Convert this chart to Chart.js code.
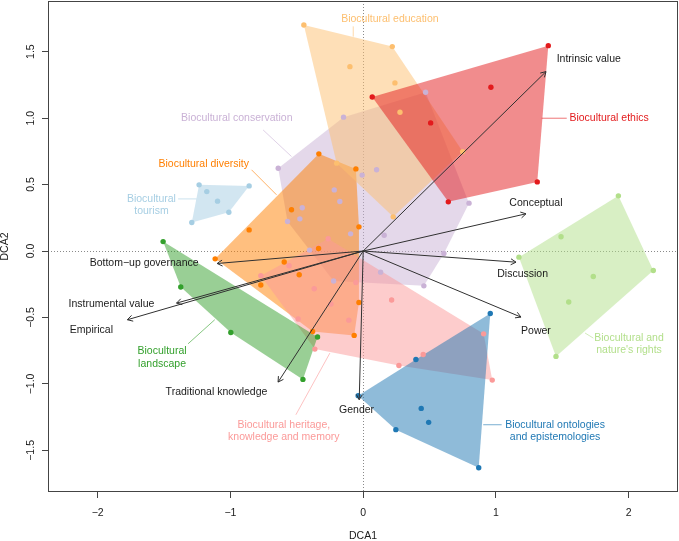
<!DOCTYPE html>
<html><head><meta charset="utf-8">
<script src="https://cdn.jsdelivr.net/npm/chart.js@4/dist/chart.umd.min.js"></script>
<style>html,body{margin:0;padding:0;background:#fff}canvas{display:block}</style>
</head><body>
<canvas id="c" width="679" height="541" style="width:679px;height:541px"></canvas>
<script>
// ---- data ----
const groupNames = ['Biocultural conservation','Biocultural diversity','Biocultural education','Biocultural ethics',
  'Biocultural heritage, knowledge and memory','Biocultural landscape',"Biocultural and nature's rights",
  'Biocultural ontologies and epistemologies','Biocultural tourism'];
const groupColors = ['#CAB2D6','#FF7F00','#FDBF6F','#E31A1C','#FB9A99','#33A02C','#B2DF8A','#1F78B4','#A6CEE3'];

const conservationX = [0.470,-0.148,-0.640,-0.008,0.101,-0.218,-0.176,-0.459,-0.477,-0.570,-0.095,0.158,-0.404,0.608,0.131,-0.223,0.457,0.797];
const conservationY = [1.195,1.007,0.623,0.571,0.611,0.460,0.372,0.325,0.242,0.222,0.129,0.119,0.007,-0.019,-0.159,-0.226,-0.262,0.360];
const diversityX = [-0.334,-0.055,-0.540,-0.859,-0.032,-0.336,-0.595,-0.482,-0.771,-0.032,-0.381,-0.068,-1.115];
const diversityY = [0.731,0.618,0.310,0.159,0.182,0.019,-0.083,-0.179,-0.256,-0.387,-0.605,-0.635,-0.059];
const educationX = [-0.447,0.219,-0.100,0.239,0.277,-0.200,0.226,0.749];
const educationY = [1.700,1.538,1.387,1.265,1.044,0.661,0.257,0.748];
const ethicsX = [0.068,0.508,1.394,0.962,1.311,0.641];
const ethicsY = [1.159,0.964,1.545,1.232,0.520,0.370];
const heritageX = [-0.264,-0.558,-0.771,-0.055,-0.369,0.214,-0.243,-0.490,-0.108,-0.364,0.269,0.452,0.907,0.972];
const heritageY = [0.092,-0.111,-0.186,-0.237,-0.284,-0.369,-0.399,-0.512,-0.520,-0.738,-0.861,-0.778,-0.623,-0.971];
const landscapeX = [-1.507,-1.374,-0.997,-0.344,-0.454];
const landscapeY = [0.071,-0.271,-0.613,-0.647,-0.966];
const natureX = [1.922,1.490,1.173,2.185,1.733,1.548,1.452];
const natureY = [0.415,0.107,-0.046,-0.147,-0.192,-0.384,-0.793];
const ontologiesX = [0.957,0.397,-0.038,0.437,0.493,0.246,0.870];
const ontologiesY = [-0.470,-0.816,-1.089,-1.184,-1.289,-1.344,-1.630];
const tourismX = [-1.236,-1.178,-1.097,-1.012,-1.291,-0.859];
const tourismY = [0.498,0.447,0.375,0.292,0.214,0.490];

const groupX = [conservationX,diversityX,educationX,ethicsX,heritageX,landscapeX,natureX,ontologiesX,tourismX];
const groupY = [conservationY,diversityY,educationY,ethicsY,heritageY,landscapeY,natureY,ontologiesY,tourismY];

// fitted vectors
const vectorNames = ['Intrinsic value','Conceptual','Discussion','Power','Gender','Traditional knowledge','Empirical','Instrumental value','Bottom\u2212up governance'];
const vectorX = [1.377,1.226,1.151,1.188,-0.030,-0.641,-1.776,-1.406,-1.100];
const vectorY = [1.350,0.280,-0.084,-0.497,-1.119,-0.986,-0.517,-0.392,-0.094];

// tick values
const xTicks = [-2,-1,0,1,2];
const yTicks = [-1.5,-1.0,-0.5,0.0,0.5,1.0,1.5];

// ---- annotation placement (data coordinates) ----
const vectorLabelX = [1.699,1.301,1.201,1.301,-0.050,-1.105,-2.047,-1.896,-1.650];
const vectorLabelY = [1.445,0.357,-0.171,-0.600,-1.199,-1.061,-0.592,-0.399,-0.094];
const groupLabelLines = [['Biocultural conservation'],['Biocultural diversity'],['Biocultural education'],['Biocultural ethics'],
  ['Biocultural heritage,','knowledge and memory'],['Biocultural','landscape'],['Biocultural and',"nature's rights"],
  ['Biocultural ontologies','and epistemologies'],['Biocultural','tourism']];
const groupLabelX = [-0.952,-1.201,0.201,1.852,-0.598,-1.515,2.002,1.445,-1.595];
const groupLabelY = [0.999,0.656,1.746,0.999,-1.307,-0.756,-0.655,-1.307,0.392];
const leaderX1 = [-0.754,-0.841,-0.075,1.344,-0.507,-1.319,1.671,0.904,-1.394];
const leaderY1 = [0.911,0.611,1.690,0.999,-1.232,-0.698,-0.617,-1.307,0.392];
const leaderX2 = [-0.540,-0.653,-0.075,1.533,-0.251,-1.118,1.733,1.043,-1.255];
const leaderY2 = [0.711,0.423,1.613,0.999,-0.768,-0.517,-0.655,-1.307,0.392];

// ---- helpers ----
function hexA(hex,a){const n=parseInt(hex.slice(1),16);return `rgba(${n>>16},${(n>>8)&255},${n&255},${a})`;}
function hull(xs,ys){
  const p=xs.map((x,i)=>({x,y:ys[i]})).sort((a,b)=>a.x-b.x||a.y-b.y);
  const cr=(o,a,b)=>(a.x-o.x)*(b.y-o.y)-(a.y-o.y)*(b.x-o.x);
  const lo=[],up=[];
  for(const q of p){while(lo.length>=2&&cr(lo[lo.length-2],lo[lo.length-1],q)<=0)lo.pop();lo.push(q);}
  for(let i=p.length-1;i>=0;i--){const q=p[i];while(up.length>=2&&cr(up[up.length-2],up[up.length-1],q)<=0)up.pop();up.push(q);}
  up.pop();lo.pop();const h=lo.concat(up);h.push(h[0]);return h;
}
const FONT='"Liberation Sans", Arial, sans-serif';
const minus=v=>(v<0?'\u2212':'')+Math.abs(v);
const noPad=s=>{s.paddingTop=0;s.paddingBottom=0;s.paddingLeft=0;s.paddingRight=0;};

const datasets=[];
const nG=groupNames.length;
groupNames.forEach((g,i)=>{
  datasets.push({type:'line',label:g+' hull',data:hull(groupX[i],groupY[i]),fill:'shape',
    backgroundColor:hexA(groupColors[i],0.5),borderWidth:0,borderColor:'rgba(0,0,0,0)',pointRadius:0,tension:0,order:100+(nG-i)});
});
groupNames.forEach((g,i)=>{
  datasets.push({type:'scatter',label:g,data:groupX[i].map((x,k)=>({x,y:groupY[i][k]})),
    pointRadius:2.7,pointHoverRadius:2.7,backgroundColor:groupColors[i],borderWidth:0,order:50+(nG-i)});
});

const overlay={
  id:'overlay',
  beforeDatasetsDraw(chart){
    const {ctx,chartArea:a,scales:{x,y}}=chart;
    ctx.save();
    ctx.strokeStyle='#8a8a8a';ctx.lineWidth=1;ctx.setLineDash([1,2]);
    const x0=Math.round(x.getPixelForValue(0))+0.5,y0=Math.round(y.getPixelForValue(0))+0.5;
    ctx.beginPath();ctx.moveTo(x0,a.top);ctx.lineTo(x0,a.bottom);ctx.moveTo(a.left,y0);ctx.lineTo(a.right,y0);ctx.stroke();
    ctx.restore();
  },
  afterDatasetsDraw(chart){
    const {ctx,chartArea:a,scales:{x,y}}=chart;
    ctx.save();
    // leader lines
    ctx.lineWidth=1;
    groupNames.forEach((g,i)=>{
      ctx.strokeStyle=hexA(groupColors[i],0.6);
      ctx.beginPath();ctx.moveTo(x.getPixelForValue(leaderX1[i]),y.getPixelForValue(leaderY1[i]));
      ctx.lineTo(x.getPixelForValue(leaderX2[i]),y.getPixelForValue(leaderY2[i]));ctx.stroke();
    });
    // vectors
    const ox=x.getPixelForValue(0),oy=y.getPixelForValue(0);
    ctx.strokeStyle='#303030';ctx.lineWidth=1;
    vectorNames.forEach((n,i)=>{
      const tx=x.getPixelForValue(vectorX[i]),ty=y.getPixelForValue(vectorY[i]);
      ctx.beginPath();ctx.moveTo(ox,oy);ctx.lineTo(tx,ty);
      const ang=Math.atan2(ty-oy,tx-ox),L=6,h=Math.PI/6;
      ctx.moveTo(tx-L*Math.cos(ang-h),ty-L*Math.sin(ang-h));ctx.lineTo(tx,ty);
      ctx.lineTo(tx-L*Math.cos(ang+h),ty-L*Math.sin(ang+h));
      ctx.stroke();
    });
    // labels
    ctx.font='10.5px '+FONT;ctx.textAlign='center';ctx.textBaseline='middle';
    ctx.fillStyle='#1a1a1a';
    vectorNames.forEach((n,i)=>ctx.fillText(n,x.getPixelForValue(vectorLabelX[i]),y.getPixelForValue(vectorLabelY[i])));
    groupNames.forEach((g,i)=>{
      ctx.fillStyle=groupColors[i];
      const px=x.getPixelForValue(groupLabelX[i]),py=y.getPixelForValue(groupLabelY[i]);
      groupLabelLines[i].forEach((t,k)=>ctx.fillText(t,px,py+k*12.3));
    });
    // box
    ctx.strokeStyle='#444';ctx.lineWidth=1;
    ctx.strokeRect(Math.round(a.left)+0.5,Math.round(a.top)+0.5,Math.round(a.right-a.left)-1,Math.round(a.bottom-a.top)-1);
    ctx.restore();
  }
};

new Chart(document.getElementById('c'),{
  type:'scatter',
  data:{datasets},
  options:{
    responsive:false,animation:false,devicePixelRatio:1,
    layout:{autoPadding:false,padding:{top:1,right:1,left:0,bottom:0}},
    plugins:{legend:{display:false},tooltip:{enabled:false}},
    scales:{
      x:{type:'linear',min:-2.374,max:2.371,
        afterFit:s=>{s.height=49;noPad(s);},
        afterBuildTicks:s=>{s.ticks=xTicks.map(v=>({value:v}));},
        ticks:{callback:v=>minus(v),font:{family:FONT,size:10.5},color:'#1a1a1a',padding:9,maxRotation:0,autoSkip:false},
        grid:{drawOnChartArea:false,drawTicks:true,tickLength:6,color:'#444'},
        border:{display:false},
        title:{display:true,text:'DCA1',font:{family:FONT,size:10.5,lineHeight:1},color:'#1a1a1a',padding:{top:0,bottom:0}}
      },
      y:{type:'linear',min:-1.813,max:1.881,
        afterFit:s=>{s.width=48;noPad(s);},
        afterBuildTicks:s=>{s.ticks=yTicks.map(v=>({value:v}));},
        ticks:{callback:v=>(v<0?'\u2212':'')+Math.abs(v).toFixed(1),font:{family:FONT,size:10.5},color:'#1a1a1a',
          minRotation:90,maxRotation:90,crossAlign:'center',padding:1,autoSkip:false},
        grid:{drawOnChartArea:false,drawTicks:true,tickLength:6,color:'#444'},
        border:{display:false},
        title:{display:true,text:'DCA2',font:{family:FONT,size:10.5,lineHeight:1},color:'#1a1a1a',padding:{top:0,bottom:0}}
      }
    }
  },
  plugins:[overlay]
});
</script>
</body></html>
